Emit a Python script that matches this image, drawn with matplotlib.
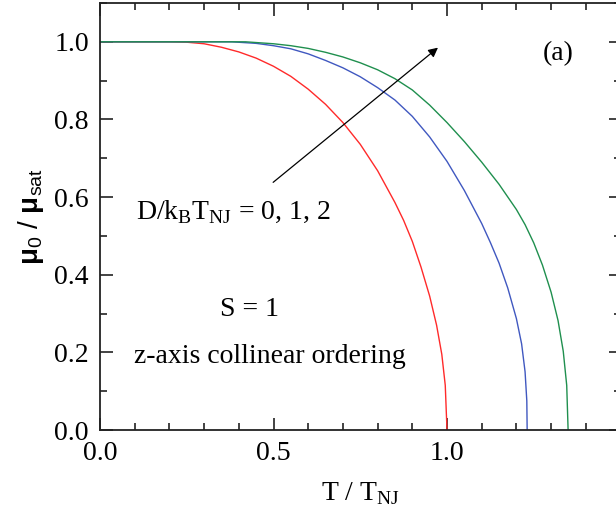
import matplotlib
matplotlib.use("Agg")
import matplotlib.pyplot as plt
from matplotlib.ticker import MultipleLocator

plt.rcParams.update({
    "font.family": "Liberation Serif",
    "mathtext.fontset": "custom",
    "mathtext.rm": "Liberation Serif",
    "mathtext.sf": "Liberation Sans",
    "mathtext.bf": "Liberation Sans:bold",
    "font.size": 20,
})

# magnetisation curves mu_0/mu_sat vs T/T_NJ for D/kB T_NJ = 0, 1, 2
t_d0 = [0.0, 0.2, 0.25, 0.3, 0.35, 0.4, 0.45, 0.5, 0.55, 0.6, 0.65, 0.7,
        0.75, 0.8, 0.85, 0.875, 0.9, 0.925, 0.95, 0.97, 0.985, 0.995, 1.0]
m_d0 = [1.0, 1.0, 0.999, 0.995, 0.986, 0.974, 0.958, 0.937, 0.911, 0.878,
        0.839, 0.792, 0.736, 0.668, 0.586, 0.54, 0.486, 0.42, 0.345, 0.27,
        0.195, 0.115, 0.0]

t_d1 = [0.0, 0.38, 0.45, 0.5, 0.55, 0.6, 0.65, 0.7, 0.75, 0.8, 0.85, 0.9,
        0.95, 1.0, 1.05, 1.1, 1.125, 1.15, 1.175, 1.2, 1.215, 1.225, 1.23,
        1.231]
m_d1 = [1.0, 1.0, 0.996, 0.99, 0.982, 0.969, 0.952, 0.933, 0.91, 0.882,
        0.85, 0.808, 0.755, 0.692, 0.617, 0.532, 0.483, 0.43, 0.366, 0.287,
        0.222, 0.15, 0.075, 0.0]

t_d2 = [0.0, 0.42, 0.5, 0.55, 0.6, 0.65, 0.7, 0.75, 0.8, 0.85, 0.9, 0.95,
        1.0, 1.05, 1.1, 1.15, 1.2, 1.225, 1.25, 1.275, 1.3, 1.32, 1.335,
        1.345, 1.349]
m_d2 = [1.0, 1.0, 0.995, 0.99, 0.983, 0.973, 0.961, 0.946, 0.928, 0.905,
        0.876, 0.837, 0.792, 0.743, 0.69, 0.633, 0.568, 0.529, 0.482, 0.425,
        0.355, 0.282, 0.203, 0.115, 0.0]

W, H = 616, 518
fig = plt.figure(figsize=(W / 100, H / 100), dpi=100)
ax = fig.add_axes([100 / W, 88 / H, 520.5 / W, 427 / H])

ax.plot(t_d0, m_d0, color="#ff2a2a", lw=1.0)
ax.plot(t_d1, m_d1, color="#4058c0", lw=1.0)
ax.plot(t_d2, m_d2, color="#1f8f4e", lw=1.0)

ax.annotate("", xy=(0.974, 0.985), xytext=(0.499, 0.638),
            arrowprops=dict(arrowstyle="-|>", color="black", lw=0.9,
                            mutation_scale=14, shrinkA=0, shrinkB=0))

ax.text(0.385, 0.56, r"D/k$_\mathrm{B}$T$_\mathrm{NJ}$ = 0, 1, 2",
        ha="center", va="center")
ax.text(0.432, 0.31, "S = 1", ha="center", va="center")
ax.text(0.49, 0.19, "z-axis collinear ordering", ha="center", va="center")
ax.text(1.32, 0.97, "(a)", ha="center", va="center")

ax.set_xlim(0, 1.5)
ax.set_ylim(0, 1.1)
ax.set_xticks([0.0, 0.5, 1.0, 1.5])
ax.set_xticklabels(["0.0", "0.5", "1.0", ""])
ax.set_yticks([0.0, 0.2, 0.4, 0.6, 0.8, 1.0])
ax.set_yticklabels(["0.0", "0.2", "0.4", "0.6", "0.8", "1.0"])
ax.xaxis.set_minor_locator(MultipleLocator(0.1))
ax.yaxis.set_minor_locator(MultipleLocator(0.1))
ax.tick_params(which="both", direction="in", top=True, right=True,
               width=1.2, color="#222222")
ax.tick_params(which="major", length=9, pad=8)
ax.tick_params(which="minor", length=5)
for s in ax.spines.values():
    s.set_linewidth(1.3)
    s.set_color("#222222")

ax.set_xlabel(r"T / T$_\mathrm{NJ}$", labelpad=10)
ax.set_ylabel(r"$\mathbf{μ}_\mathsf{0}$ / $\mathbf{μ}_\mathsf{sat}$",
              family="Liberation Sans", labelpad=6)

fig.savefig("out.png", dpi=100)
